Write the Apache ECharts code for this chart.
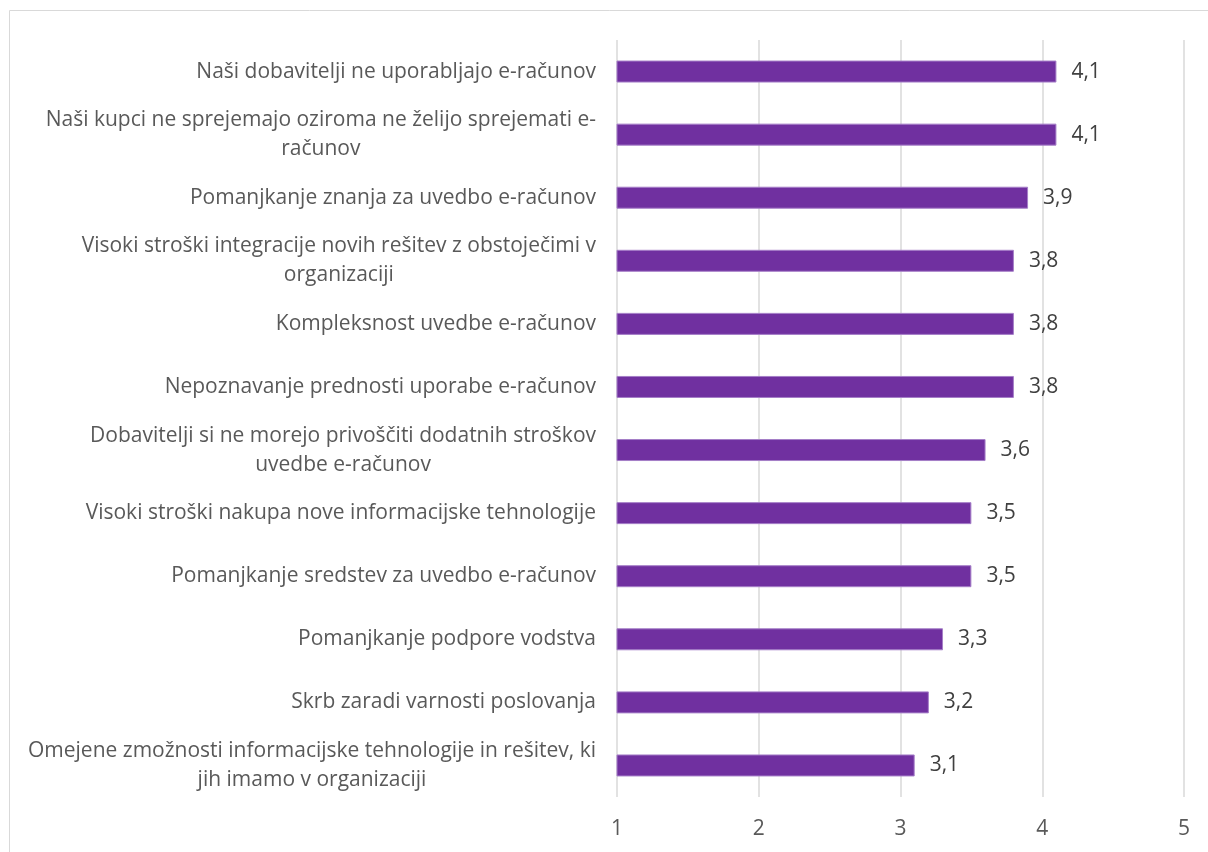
<!DOCTYPE html>
<html>
<head>
<meta charset="utf-8">
<script src="https://cdn.jsdelivr.net/npm/echarts@6/dist/echarts.min.js"></script>
<style>
  html, body { margin: 0; padding: 0; background: #fff; }
  #chart { width: 1208px; height: 852px; }
</style>
</head>
<body>
<div id="chart"></div>
<script>
// reasons for not using e-invoices, top to bottom
const categories = [
  "Naši dobavitelji ne uporabljajo e-računov",
  "Naši kupci ne sprejemajo oziroma ne želijo sprejemati e-\nračunov",
  "Pomanjkanje znanja za uvedbo e-računov",
  "Visoki stroški integracije novih rešitev z obstoječimi v\norganizaciji",
  "Kompleksnost uvedbe e-računov",
  "Nepoznavanje prednosti uporabe e-računov",
  "Dobavitelji si ne morejo privoščiti dodatnih stroškov\nuvedbe e-računov",
  "Visoki stroški nakupa nove informacijske tehnologije",
  "Pomanjkanje sredstev za uvedbo e-računov",
  "Pomanjkanje podpore vodstva",
  "Skrb zaradi varnosti poslovanja",
  "Omejene zmožnosti informacijske tehnologije in rešitev, ki\njih imamo v organizaciji"
];
const scores = [4.1, 4.1, 3.9, 3.8, 3.8, 3.8, 3.6, 3.5, 3.5, 3.3, 3.2, 3.1];
const xTicks = [1, 2, 3, 4, 5];

const FONT = "'Open Sans', 'DejaVu Sans', sans-serif";
const FS = 21;

const chart = echarts.init(document.getElementById("chart"));

chart.setOption({
  animation: false,
  textStyle: { fontFamily: FONT },
  graphic: [{
    type: "rect",
    shape: { x: 9.5, y: 10.5, width: 1220, height: 870 },
    style: { fill: "none", stroke: "#d9d9d9", lineWidth: 1 },
    silent: true
  }],
  grid: { left: 617, right: 24, top: 40, bottom: 55, containLabel: false },
  xAxis: {
    type: "value",
    min: xTicks[0],
    max: xTicks[xTicks.length - 1],
    interval: 1,
    axisLine: { show: false },
    axisTick: { show: false },
    splitLine: { lineStyle: { color: "#d9d9d9", width: 1.5 } },
    axisLabel: { color: "#595959", fontSize: FS, fontFamily: FONT, margin: 22 }
  },
  yAxis: {
    type: "category",
    inverse: true,
    data: categories,
    axisLine: { show: false },
    axisTick: { show: false },
    axisLabel: {
      color: "#595959",
      fontSize: FS,
      fontFamily: FONT,
      lineHeight: 29,
      margin: 21,
      align: "right",
      // centre wrapped lines inside the right-aligned block
      formatter: function (v) {
        return v.split("\n").map(function (l) { return "{c|" + l + "}"; }).join("\n");
      },
      rich: {
        c: { align: "center", color: "#595959", fontSize: FS, fontFamily: FONT, lineHeight: 29 }
      }
    }
  },
  series: [{
    type: "bar",
    data: scores,
    barWidth: 22,
    itemStyle: { color: "#7030a0", borderColor: "#a67fc8", borderWidth: 1 },
    label: {
      show: true,
      position: "right",
      distance: 15,
      color: "#404040",
      fontSize: FS,
      fontFamily: FONT,
      formatter: function (p) { return p.value.toFixed(1).replace(".", ","); }
    }
  }]
});
</script>
</body>
</html>
